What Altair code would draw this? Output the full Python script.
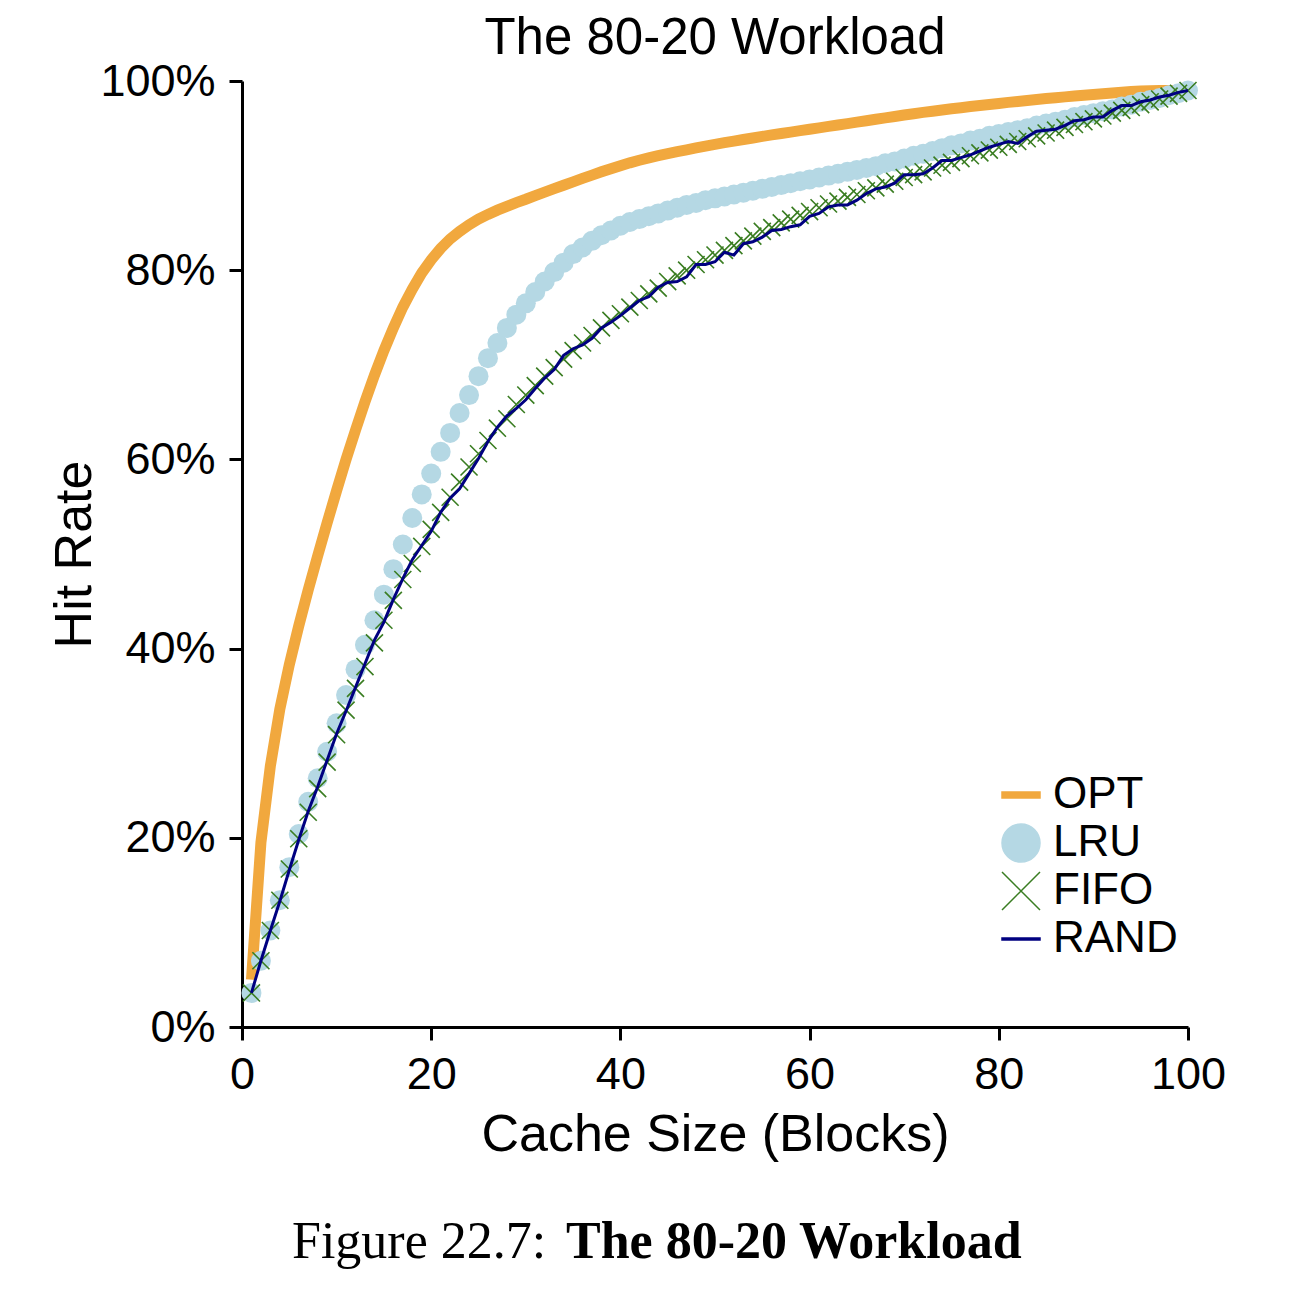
import altair as alt
import pandas as pd

sizes = list(range(1, 101))

opt = [5.0, 19.5, 27.6, 33.6, 38.3, 42.4, 46.2, 49.8, 53.3, 56.7,
       60.0, 63.1, 66.1, 68.9, 71.5, 73.9, 76.1, 78.0, 79.7, 81.1,
       82.3, 83.3, 84.1, 84.8, 85.4, 85.9, 86.35, 86.75, 87.15, 87.5,
       87.88, 88.25, 88.62, 88.98, 89.34, 89.7, 90.05, 90.4, 90.73, 91.05,
       91.35, 91.62, 91.87, 92.1, 92.32, 92.53, 92.73, 92.93, 93.12, 93.3,
       93.48, 93.65, 93.82, 93.98, 94.14, 94.3, 94.45, 94.6, 94.75, 94.9,
       95.05, 95.2, 95.35, 95.5, 95.65, 95.8, 95.95, 96.1, 96.25, 96.4,
       96.54, 96.68, 96.81, 96.94, 97.06, 97.18, 97.3, 97.41, 97.52, 97.63,
       97.74, 97.84, 97.94, 98.04, 98.14, 98.23, 98.32, 98.41, 98.5, 98.58,
       98.66, 98.74, 98.81, 98.88, 98.94, 98.98, 99.0, 99.0, 99.0, 99.0]

lru = [3.6, 7.0, 10.2, 13.4, 16.9, 20.4, 23.8, 26.3, 29.1, 32.1,
       35.1, 37.8, 40.4, 43.0, 45.7, 48.4, 51.0, 53.8, 56.3, 58.5,
       60.8, 62.8, 64.9, 66.8, 68.8, 70.7, 72.3, 73.9, 75.3, 76.5,
       77.7, 78.8, 79.8, 80.8, 81.7, 82.4, 83.1, 83.7, 84.2, 84.7,
       85.1, 85.4, 85.7, 86.0, 86.3, 86.6, 86.9, 87.1, 87.4, 87.6,
       87.8, 88.0, 88.2, 88.4, 88.6, 88.8, 89.0, 89.2, 89.4, 89.6,
       89.8, 90.0, 90.2, 90.4, 90.6, 90.8, 91.0, 91.3, 91.5, 91.8,
       92.1, 92.3, 92.6, 92.9, 93.2, 93.4, 93.7, 93.9, 94.2, 94.4,
       94.6, 94.8, 95.0, 95.3, 95.5, 95.7, 95.9, 96.2, 96.4, 96.6,
       96.8, 97.0, 97.3, 97.5, 97.8, 98.0, 98.2, 98.5, 98.7, 99.0]

fifo = [3.6, 7.0, 10.2, 13.4, 16.7, 19.9, 22.7, 25.2, 28.0, 30.9,
        33.5, 35.8, 38.1, 40.6, 43.0, 45.1, 47.3, 49.0, 50.8, 52.6,
        54.4, 56.0, 57.6, 59.2, 60.6, 62.0, 63.3, 64.3, 65.8, 66.8,
        67.8, 68.8, 69.7, 70.6, 71.5, 72.3, 73.1, 73.9, 74.7, 75.4,
        76.1, 76.8, 77.5, 78.1, 78.8, 79.4, 80.0, 80.6, 81.1, 81.6,
        82.1, 82.6, 83.1, 83.6, 84.1, 84.5, 85.0, 85.4, 85.8, 86.2,
        86.6, 87.0, 87.3, 87.7, 88.0, 88.4, 88.7, 89.1, 89.4, 89.8,
        90.1, 90.4, 90.8, 91.1, 91.4, 91.8, 92.1, 92.4, 92.7, 93.0,
        93.3, 93.6, 93.9, 94.2, 94.5, 94.8, 95.1, 95.4, 95.7, 96.0,
        96.3, 96.6, 96.9, 97.2, 97.5, 97.8, 98.1, 98.4, 98.7, 99.0]

rand = [3.6, 7.0, 10.2, 13.3, 16.6, 19.8, 22.8, 25.4, 28.2, 31.0,
        33.4, 35.9, 38.4, 40.9, 42.8, 45.2, 47.4, 49.4, 50.9, 52.4,
        54.4, 55.9, 56.9, 58.5, 60.1, 61.9, 63.4, 64.6, 65.4, 66.3,
        67.5, 68.6, 69.5, 71.0, 71.7, 72.1, 72.8, 73.9, 74.5, 75.2,
        76.0, 76.8, 77.2, 78.2, 78.7, 78.8, 79.3, 80.6, 80.6, 80.9,
        81.9, 81.6, 82.8, 83.0, 83.5, 84.2, 84.3, 84.6, 84.8, 85.7,
        86.0, 86.7, 86.9, 86.9, 87.4, 88.1, 88.6, 88.8, 89.2, 90.1,
        90.1, 90.2, 90.8, 91.6, 91.6, 91.9, 92.2, 92.6, 93.0, 93.3,
        93.6, 93.4, 94.1, 94.7, 94.8, 94.9, 95.3, 95.8, 95.9, 96.2,
        96.2, 96.9, 97.4, 97.4, 97.8, 98.0, 98.3, 98.5, 98.8, 99.0]

policies = ["OPT", "LRU", "FIFO", "RAND"]
colors = ["#F1A83E", "#B5D8E4", "#3A7D22", "#000080"]
ticks = [0, 20, 40, 60, 80, 100]
title_text = "The 80-20 Workload"
caption_label = "Figure 22.7:"
caption_text = "The 80-20 Workload"

df = pd.DataFrame({
    "size": sizes * 4,
    "rate": opt + lru + fifo + rand,
    "policy": [p for p in policies for _ in sizes],
})

SANS = "Liberation Sans"
SERIF = "Liberation Serif"
W, H = 946, 946

x_enc = alt.X("size:Q",
              scale=alt.Scale(domain=[0, 100], nice=False, zero=False),
              axis=alt.Axis(values=ticks, title="Cache Size (Blocks)",
                            titleX=W / 2, titleY=123, titleBaseline="alphabetic"))
y_enc = alt.Y("rate:Q",
              scale=alt.Scale(domain=[0, 100], nice=False),
              axis=alt.Axis(values=ticks, labelExpr="datum.value + '%'", title="Hit Rate",
                            titleX=-152, titleY=H / 2, titleBaseline="alphabetic"))

base = alt.Chart(df)

opt_layer = base.transform_filter(alt.datum.policy == "OPT").mark_line(
    color=colors[0], strokeWidth=11).encode(x=x_enc, y=y_enc)
lru_layer = base.transform_filter(alt.datum.policy == "LRU").mark_circle(
    color=colors[1], size=400, opacity=1).encode(x=x_enc, y=y_enc)
x_path = "M-1,-1L1,1M-1,1L1,-1"
fifo_layer = base.transform_filter(alt.datum.policy == "FIFO").mark_point(
    shape=x_path, size=290, filled=False, color=colors[2], strokeWidth=1.6, opacity=1
).encode(x=x_enc, y=y_enc)
rand_layer = base.transform_filter(alt.datum.policy == "RAND").mark_line(
    color=colors[3], strokeWidth=3).encode(x=x_enc, y=y_enc)

legend = alt.Legend(title=None, orient="none", legendX=757, legendY=692,
                    labelFont=SANS, labelFontSize=44, labelColor="black",
                    symbolSize=1444, symbolStrokeWidth=1.5, symbolOpacity=1,
                    rowPadding=4, labelOffset=10, padding=0, labelLimit=400)
shape_paths = ["M-1,-0.16H1V0.16H-1Z",
               "M-1,0A1,1,0,1,1,1,0A1,1,0,1,1,-1,0Z",
               x_path,
               "M-1,-0.05H1V0.05H-1Z"]
legend_layer = alt.Chart(pd.DataFrame({"policy": policies})).mark_point(
    filled=True, opacity=0).encode(
    shape=alt.Shape("policy:N", scale=alt.Scale(domain=policies, range=shape_paths), legend=legend),
    fill=alt.Fill("policy:N", scale=alt.Scale(domain=policies, range=colors), legend=legend),
    stroke=alt.Stroke("policy:N", scale=alt.Scale(domain=policies, range=colors), legend=legend),
)

title_layer = alt.Chart(pd.DataFrame({"t": [title_text]})).mark_text(
    font=SANS, fontSize=51, align="center", baseline="alphabetic", color="black"
).encode(text="t:N", x=alt.value(W / 2), y=alt.value(-27))

cap1 = alt.Chart(pd.DataFrame({"t": [caption_label]})).mark_text(
    font=SERIF, fontSize=52, align="left", baseline="alphabetic", color="black"
).encode(text="t:N", x=alt.value(50), y=alt.value(1177))
cap2 = alt.Chart(pd.DataFrame({"t": [caption_text]})).mark_text(
    font=SERIF, fontSize=52, fontWeight="bold", align="left", baseline="alphabetic", color="black"
).encode(text="t:N", x=alt.value(324), y=alt.value(1177))

chart = alt.layer(opt_layer, lru_layer, fifo_layer, rand_layer, legend_layer,
                  title_layer, cap1, cap2).properties(
    width=W, height=H,
    autosize=alt.AutoSizeParams(type="none"),
    padding={"left": 234, "top": 73, "right": 110, "bottom": 270},
).configure_view(stroke=None).configure_axis(
    grid=False, domainColor="black", domainWidth=3, tickColor="black", tickWidth=3,
    tickSize=13, labelFont=SANS, labelFontSize=45, labelColor="black", labelPadding=12,
    titleFont=SANS, titleFontSize=52, titleFontWeight="normal", titleColor="black",
    labelFlush=False, labelOverlap=False,
).configure_axisY(labelPadding=14)

chart.save("out.html", embed_options={"renderer": "svg", "actions": False})
